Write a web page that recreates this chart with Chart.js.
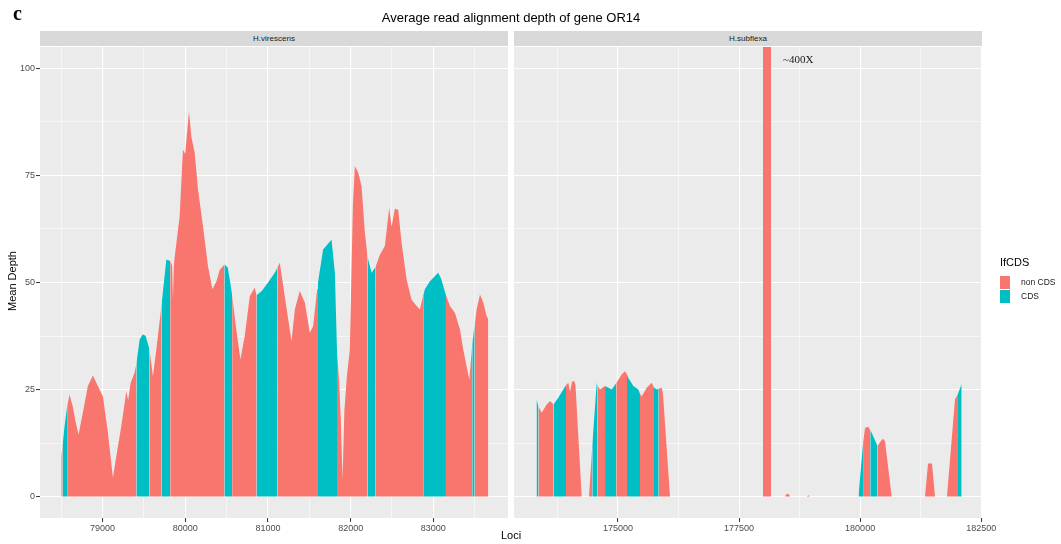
<!DOCTYPE html>
<html>
<head>
<meta charset="utf-8">
<script src="https://cdn.jsdelivr.net/npm/chart.js@4/dist/chart.umd.min.js"></script>
<style>
  html, body { margin:0; padding:0; background:#fff; }
  body { width:1061px; height:544px; overflow:hidden; position:relative; font-family:"Liberation Sans", Arial, sans-serif; }
  .abs { position:absolute; z-index:2; }
  #c1 { position:absolute; left:0; top:0; z-index:1; }
  #c2 { position:absolute; left:512px; top:0; z-index:1; }
  .strip { position:absolute; z-index:2; top:31px; height:15px; background:#D9D9D9; color:#1A1A1A; font-size:8px; line-height:15px; text-align:center; }
  .lab { font-size:8.5px; color:#1A1A1A; }
</style>
</head>
<body>
<canvas id="c1" width="512" height="544"></canvas>
<canvas id="c2" width="490" height="544"></canvas>
<div class="abs" style="left:13px;top:2px;font-family:'Liberation Serif',serif;font-weight:bold;font-size:20px;">c</div>
<div class="abs" style="left:40px;width:942px;top:10px;text-align:center;font-size:13px;color:#000;">Average read alignment depth of gene OR14</div>
<div class="strip" style="left:40px;width:468px;">H.virescens</div>
<div class="strip" style="left:514px;width:468px;">H.subflexa</div>
<div class="abs" style="left:-38px;top:275px;width:100px;text-align:center;font-size:11px;transform:rotate(-90deg);">Mean Depth</div>
<div class="abs" style="left:461px;width:100px;top:529px;text-align:center;font-size:11px;">Loci</div>
<div class="abs" style="left:783px;top:53px;font-family:'Liberation Serif',serif;font-size:11px;color:#1A1A1A;">~400X</div>
<div class="abs" style="left:1000px;top:256px;font-size:11px;color:#000;">IfCDS</div>
<div class="abs" style="left:1000px;top:276px;width:10px;height:13px;background:#F8766D;"></div>
<div class="abs" style="left:1000px;top:290px;width:10px;height:13px;background:#00BFC4;"></div>
<div class="abs lab" style="left:1021px;top:277px;">non CDS</div>
<div class="abs lab" style="left:1021px;top:291px;">CDS</div>
<script>
// ---------------- data ----------------
const panelNames = ['H.virescens', 'H.subflexa'];
const seriesNames = ['non CDS', 'CDS'];

const leftLoci = [78500,78516,78540,78571,78600,78640,78673,78709,78761,78822,78883,78943,79004,79064,79125,79166,79226,79287,79309,79339,79387,79409,79448,79488,79521,79565,79609,79650,79714,79771,79818,79841,79851,79862,79872,79932,79972,79999,80017,80045,80074,80114,80154,80214,80275,80328,80377,80417,80473,80513,80544,80567,80610,80667,80719,80780,80840,80862,80925,81001,81082,81115,81143,81203,81285,81325,81385,81446,81506,81546,81595,81605,81667,81724,81769,81809,81835,81863,81881,81902,81924,81954,81990,82027,82051,82091,82132,82172,82204,82253,82302,82354,82414,82466,82495,82535,82575,82616,82677,82737,82798,82838,82878,82898,82959,83059,83092,83153,83201,83262,83322,83362,83403,83435,83471,83500,83524,83564,83604,83645,83665];
const leftDepth = [9.4,12,16.4,21,23.8,21,17.5,14.5,19.6,25.8,28.3,25.8,23.4,15,4.4,9.4,16.4,24.6,22.5,26.5,29,31,36.7,37.9,37.5,34.5,28.1,34.3,45,55.4,55,54,46,54,56,65.5,81,80,84,90,84,80.3,71.7,63.2,53.8,48.4,50.3,53,54.2,53.5,50,47,40,32,37.5,46.8,48.8,47,48,50,52.3,53.5,54.6,46.8,36.3,43.7,48,45.3,38.2,39.8,48.4,50,57.7,59,60,52.3,34,26,18,4,20,28,34.3,68,77.2,75.7,72.5,61.7,56,52.3,53.7,56.5,58.5,67.4,63,67.2,67,59.3,50.7,46,44.5,43.7,47,48.4,50.3,52.3,51,47,44.5,42.9,39,34.3,30.4,27.3,35.5,40,43.7,47.2,45.3,42.1,41.4];
const leftCds = [0,1,1,0,0,0,0,0,0,0,0,0,0,0,0,0,0,0,0,0,0,1,1,1,1,0,0,0,1,1,0,0,0,0,0,0,0,0,0,0,0,0,0,0,0,0,0,0,1,1,1,0,0,0,0,0,0,1,1,1,1,0,0,0,0,0,0,0,0,0,0,1,1,1,1,1,0,0,0,0,0,0,0,0,0,0,0,0,1,1,0,0,0,0,0,0,0,0,0,0,0,0,1,1,1,1,1,0,0,0,0,0,0,0,1,0,0,0,0,0,0];

const rightLoci = [173317,173358,173424,173528,173596,173668,173767,173870,173926,173974,174009,174050,174098,174122,174250,174401,174469,174560,174573,174628,174732,174870,174965,175076,175145,175186,175213,175316,175419,175454,175489,175593,175696,175743,175799,175840,175902,175929,176074,177994,177994,178159,178159,178449,178480,178521,178552,178897,178930,178965,179966,180061,180101,180169,180210,180239,180359,180445,180472,180514,180652,181340,181402,181484,181546,181794,181959,182021,182097];
const rightDepth = [22.7,21,19.6,21.5,22.3,21.5,23.1,25,26,26.6,24.5,26.8,27,26,0,0,12,26.6,26,25,25.8,25,26.5,28.5,29.3,28.5,27.7,25.8,25,24,23.4,25.4,26.6,25.5,25,25.2,25.4,24,0,0,400,400,0,0,0.6,0.6,0,0,0.3,0,0,12.5,16,16.3,15.5,14.9,11.8,13.2,13.5,12.9,0,0,7.7,7.7,0,0,22.7,24,26.3];
const rightCds = [1,0,0,0,0,1,1,1,0,0,0,0,0,0,0,0,1,1,0,0,1,1,0,0,0,1,1,1,1,0,0,0,0,1,1,0,0,0,0,0,0,0,0,0,0,0,0,0,0,0,1,0,0,0,1,1,0,0,0,0,0,0,0,0,0,0,0,1,1];

const yMajor = [0, 25, 50, 75, 100];
const yMinor = [12.5, 37.5, 62.5, 87.5];
const yLabels = ['0', '25', '50', '75', '100'];
const leftXMajor = [79000, 80000, 81000, 82000, 83000];
const leftXMinor = [78500, 79500, 80500, 81500, 82500, 83500];
const leftXLabels = ['79000', '80000', '81000', '82000', '83000'];
const rightXMajor = [175000, 177500, 180000, 182500];
const rightXMinor = [173750, 176250, 178750, 181250];
const rightXLabels = ['175000', '177500', '180000', '182500'];

// ---------------- styling ----------------
const COL_NON = '#F8766D';
const COL_CDS = '#00BFC4';
const TICK_FONT = { family: 'Liberation Sans', size: 9 };

const panelBg = {
  id: 'panelBg',
  beforeDraw(chart) {
    const { ctx, chartArea: a } = chart;
    ctx.save();
    ctx.fillStyle = '#EBEBEB';
    ctx.fillRect(a.left, a.top, a.right - a.left, a.bottom - a.top);
    ctx.restore();
  }
};

function makeAxis(major, minor, labels, opts) {
  const all = major.concat(minor).sort((a, b) => a - b);
  const isMajor = v => major.indexOf(v) >= 0;
  return Object.assign({
    type: 'linear',
    afterBuildTicks: s => { s.ticks = all.map(v => ({ value: v })); },
    border: { display: false },
    grid: {
      color: '#FFFFFF',
      lineWidth: c => (c.tick && isMajor(c.tick.value)) ? 1.1 : 0.55,
      tickColor: c => (c.tick && isMajor(c.tick.value)) ? '#333333' : 'rgba(0,0,0,0)',
      tickLength: 4,
      tickWidth: 1
    },
    ticks: {
      autoSkip: false,
      maxRotation: 0,
      minRotation: 0,
      font: TICK_FONT,
      color: '#4D4D4D',
      padding: 1,
      callback: v => { const i = major.indexOf(v); return i >= 0 ? labels[i] : ''; }
    }
  }, opts || {});
}

function buildDataset(loci, depth, cds) {
  return {
    data: loci.map((x, i) => ({ x: x, y: depth[i] })),
    fill: 'origin',
    backgroundColor: COL_NON,
    borderColor: 'rgba(0,0,0,0)',
    borderWidth: 0,
    pointRadius: 0,
    pointHoverRadius: 0,
    tension: 0,
    segment: {
      backgroundColor: c => cds[c.p0DataIndex] ? COL_CDS : COL_NON
    }
  };
}

function makeChart(id, loci, depth, cds, xMin, xMax, xMajor, xMinor, xLabels, showY, padding) {
  const yAxis = makeAxis(yMajor, yMinor, yLabels, { min: -5, max: 105 });
  yAxis.afterFit = s => { s.width = showY ? 40 : 0; };
  if (!showY) {
    yAxis.ticks.display = false;
    yAxis.grid.drawTicks = false;
  }
  const xAxis = makeAxis(xMajor, xMinor, xLabels, { min: xMin, max: xMax });
  xAxis.afterFit = s => { s.height = 26; };
  return new Chart(document.getElementById(id), {
    type: 'line',
    data: { datasets: [buildDataset(loci, depth, cds)] },
    options: {
      responsive: false,
      animation: false,
      events: [],
      layout: { padding: padding },
      plugins: { legend: { display: false }, tooltip: { enabled: false }, title: { display: false } },
      scales: { x: xAxis, y: yAxis }
    },
    plugins: [panelBg]
  });
}

makeChart('c1', leftLoci, leftDepth, leftCds, 78243, 83903, leftXMajor, leftXMinor, leftXLabels, true,
  { top: 47, left: 0, right: 4, bottom: 0 });
makeChart('c2', rightLoci, rightDepth, rightCds, 172852, 182517, rightXMajor, rightXMinor, rightXLabels, false,
  { top: 47, left: 2, right: 20, bottom: 0 });
</script>
</body>
</html>
